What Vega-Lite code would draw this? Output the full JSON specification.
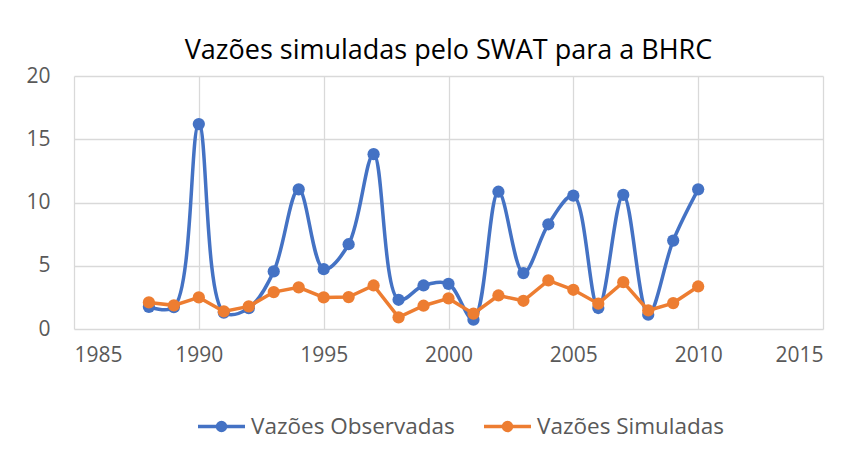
{
  "$schema": "https://vega.github.io/schema/vega-lite/v6.json",
  "width": 749,
  "height": 253,
  "autosize": {"type": "none"},
  "padding": {"left": 74, "top": 76, "right": 41, "bottom": 143},
  "background": "white",
  "title": {
    "text": "Vazões simuladas pelo SWAT para a BHRC",
    "font": "Open Sans",
    "fontSize": 27,
    "fontWeight": "normal",
    "color": "#000000",
    "anchor": "middle",
    "baseline": "bottom",
    "offset": -27
  },
  "config": {
    "view": {"stroke": null},
    "axis": {
      "labelFont": "Open Sans",
      "labelFontSize": 21,
      "labelColor": "#595959",
      "gridColor": "#d9d9d9",
      "gridWidth": 1.3,
      "domain": false,
      "ticks": false,
      "title": null
    }
  },
  "data": {
    "values": [
      {"ano": 1988, "serie": "Vazões Observadas", "vazao": 1.75},
      {"ano": 1989, "serie": "Vazões Observadas", "vazao": 1.72},
      {"ano": 1990, "serie": "Vazões Observadas", "vazao": 16.2},
      {"ano": 1991, "serie": "Vazões Observadas", "vazao": 1.3},
      {"ano": 1992, "serie": "Vazões Observadas", "vazao": 1.65},
      {"ano": 1993, "serie": "Vazões Observadas", "vazao": 4.55},
      {"ano": 1994, "serie": "Vazões Observadas", "vazao": 11.04},
      {"ano": 1995, "serie": "Vazões Observadas", "vazao": 4.73},
      {"ano": 1996, "serie": "Vazões Observadas", "vazao": 6.7},
      {"ano": 1997, "serie": "Vazões Observadas", "vazao": 13.82},
      {"ano": 1998, "serie": "Vazões Observadas", "vazao": 2.31},
      {"ano": 1999, "serie": "Vazões Observadas", "vazao": 3.44},
      {"ano": 2000, "serie": "Vazões Observadas", "vazao": 3.57},
      {"ano": 2001, "serie": "Vazões Observadas", "vazao": 0.74},
      {"ano": 2002, "serie": "Vazões Observadas", "vazao": 10.85},
      {"ano": 2003, "serie": "Vazões Observadas", "vazao": 4.42},
      {"ano": 2004, "serie": "Vazões Observadas", "vazao": 8.28},
      {"ano": 2005, "serie": "Vazões Observadas", "vazao": 10.54},
      {"ano": 2006, "serie": "Vazões Observadas", "vazao": 1.66},
      {"ano": 2007, "serie": "Vazões Observadas", "vazao": 10.6},
      {"ano": 2008, "serie": "Vazões Observadas", "vazao": 1.13},
      {"ano": 2009, "serie": "Vazões Observadas", "vazao": 6.99},
      {"ano": 2010, "serie": "Vazões Observadas", "vazao": 11.04},
      {"ano": 1988, "serie": "Vazões Simuladas", "vazao": 2.1},
      {"ano": 1989, "serie": "Vazões Simuladas", "vazao": 1.87},
      {"ano": 1990, "serie": "Vazões Simuladas", "vazao": 2.5},
      {"ano": 1991, "serie": "Vazões Simuladas", "vazao": 1.39},
      {"ano": 1992, "serie": "Vazões Simuladas", "vazao": 1.79},
      {"ano": 1993, "serie": "Vazões Simuladas", "vazao": 2.92},
      {"ano": 1994, "serie": "Vazões Simuladas", "vazao": 3.29},
      {"ano": 1995, "serie": "Vazões Simuladas", "vazao": 2.5},
      {"ano": 1996, "serie": "Vazões Simuladas", "vazao": 2.52},
      {"ano": 1997, "serie": "Vazões Simuladas", "vazao": 3.44},
      {"ano": 1998, "serie": "Vazões Simuladas", "vazao": 0.92},
      {"ano": 1999, "serie": "Vazões Simuladas", "vazao": 1.84},
      {"ano": 2000, "serie": "Vazões Simuladas", "vazao": 2.42},
      {"ano": 2001, "serie": "Vazões Simuladas", "vazao": 1.21},
      {"ano": 2002, "serie": "Vazões Simuladas", "vazao": 2.65},
      {"ano": 2003, "serie": "Vazões Simuladas", "vazao": 2.23},
      {"ano": 2004, "serie": "Vazões Simuladas", "vazao": 3.84},
      {"ano": 2005, "serie": "Vazões Simuladas", "vazao": 3.1},
      {"ano": 2006, "serie": "Vazões Simuladas", "vazao": 2.0},
      {"ano": 2007, "serie": "Vazões Simuladas", "vazao": 3.7},
      {"ano": 2008, "serie": "Vazões Simuladas", "vazao": 1.47},
      {"ano": 2009, "serie": "Vazões Simuladas", "vazao": 2.05},
      {"ano": 2010, "serie": "Vazões Simuladas", "vazao": 3.36}
    ]
  },
  "encoding": {
    "x": {
      "field": "ano",
      "type": "quantitative",
      "scale": {"domain": [1985, 2015], "nice": false, "zero": false},
      "axis": {"values": [1985, 1990, 1995, 2000, 2005, 2010, 2015], "format": "d", "labelPadding": 15}
    },
    "y": {
      "field": "vazao",
      "type": "quantitative",
      "scale": {"domain": [0, 20], "nice": false},
      "axis": {"values": [0, 5, 10, 15, 20], "labelPadding": 24}
    },
    "color": {
      "field": "serie",
      "type": "nominal",
      "scale": {"domain": ["Vazões Observadas", "Vazões Simuladas"], "range": ["#4472C4", "#ED7D31"]},
      "legend": {
        "title": null,
        "orient": "none",
        "direction": "horizontal",
        "legendX": 122,
        "legendY": 325,
        "labelFont": "Open Sans",
        "labelFontSize": 22.5,
        "labelColor": "#595959",
        "labelLimit": 0,
        "labelOffset": 4,
        "columnPadding": 22,
        "symbolType": "M-1,0L1,0M-0.17,0A0.17,0.17,0,1,1,0.17,0A0.17,0.17,0,1,1,-0.17,0Z",
        "symbolSize": 2209,
        "symbolStrokeWidth": 3.5,
        "encode": {
          "symbols": {"update": {"fill": {"scale": "color", "field": "value"}}}
        }
      }
    }
  },
  "layer": [
    {
      "transform": [{"filter": "datum.serie === 'Vazões Observadas'"}],
      "mark": {"type": "line", "interpolate": "catmull-rom", "strokeWidth": 3.5, "point": {"filled": true, "size": 150}}
    },
    {
      "transform": [{"filter": "datum.serie === 'Vazões Simuladas'"}],
      "mark": {"type": "line", "strokeWidth": 3.5, "point": {"filled": true, "size": 150}}
    }
  ]
}
